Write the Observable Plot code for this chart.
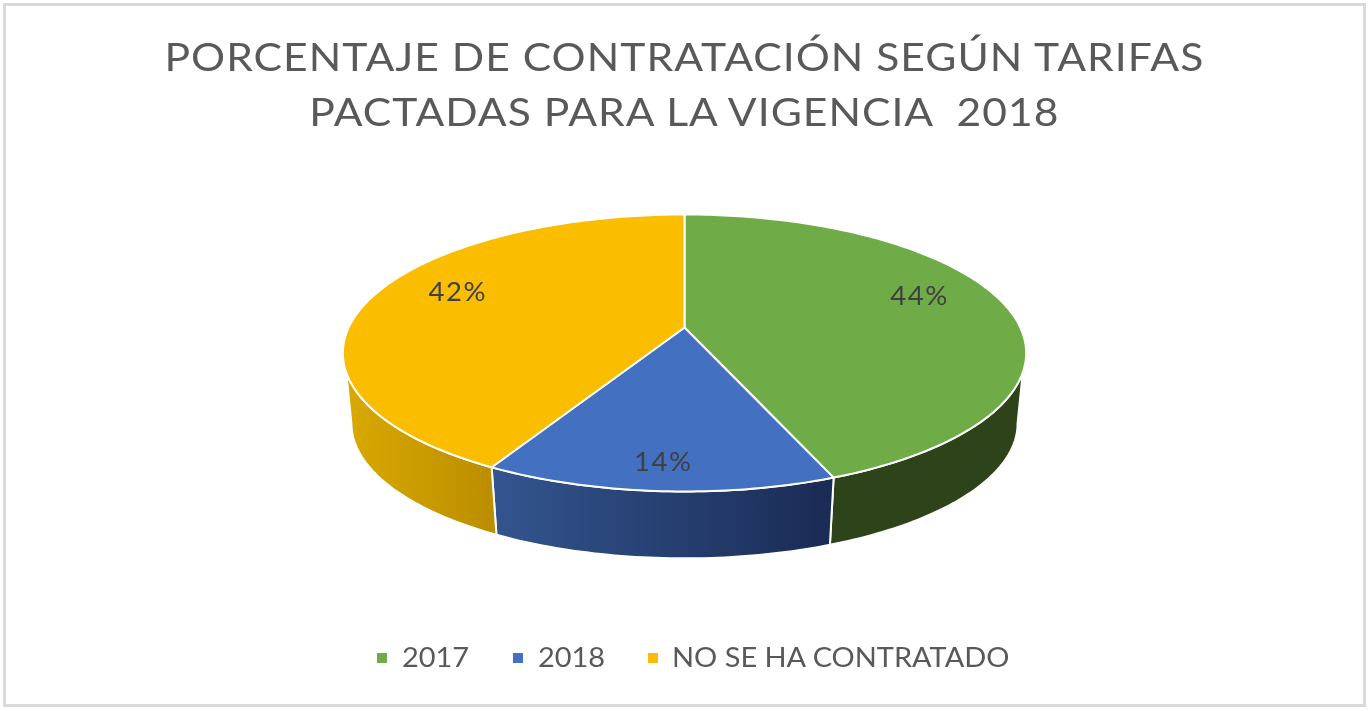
<!DOCTYPE html>
<html lang="es">
<head>
<meta charset="utf-8">
<script src="https://cdn.jsdelivr.net/npm/d3@7"></script>
<script src="https://cdn.jsdelivr.net/npm/@observablehq/plot@0.6"></script>
<style>
  html, body { margin: 0; padding: 0; background: #fff; }
  body { width: 1369px; height: 711px; overflow: hidden; position: relative; font-family: Lato, "Open Sans", sans-serif; }
  #frame { position: absolute; left: 3px; top: 3px; width: 1363px; height: 704px; box-sizing: border-box; border: 3.5px solid #d9d9d9; pointer-events: none; }
  #title { height: 155px; box-sizing: border-box; padding-top: 28px; margin: 0; font-weight: 400; font-size: 39.5px; line-height: 55px; letter-spacing: 0.95px; text-align: center; color: #595959; transform: scaleX(1.078); transform-origin: 686px 0; filter: blur(0.5px); }
  #chart svg { display: block; filter: blur(0.4px); }
  #chart text { letter-spacing: 1.5px; }
  #legend { position: relative; height: 60px; font-size: 27px; color: #595959; filter: blur(0.5px); }
  #legend span { position: absolute; top: 14px; line-height: 36px; white-space: nowrap; transform: scaleX(1.072); transform-origin: 0 0; }
  #legend i { position: absolute; top: 28px; width: 10px; height: 10px; }
</style>
</head>
<body>
<div id="frame"></div>
<h1 id="title">PORCENTAJE DE CONTRATACIÓN SEGÚN TARIFAS<br>PACTADAS PARA LA VIGENCIA&nbsp; 2018</h1>
<div id="chart"></div>
<div id="legend"></div>
<script>
// Data
const categories = ["2017", "2018", "NO SE HA CONTRATADO"];
const values = [44, 14, 42];
const topColors = ["#6fab47", "#4370c0", "#fbbd00"];

// Presentation
const sideFills = ["#2d441b", "url(#blueSide)", "url(#yellowSide)"];
const labelPolar = [[71.7, 0.77], [183.6, 0.85], [291.4, 0.7625]];
const legendSwatchX = [377, 513, 648];
const legendTextX = [402, 538, 672];

// Tilted-disc perspective
const c = 0.184, baseScale = 0.975, baseDrop = 71 / 133.8;
const rad = d => d * Math.PI / 180;
const projTop = (deg, r = 1) => {
  const u = r * Math.sin(rad(deg)), v = r * Math.cos(rad(deg)), w = 1 + c * v;
  return { x: u / w, y: v / w };
};
const projBase = deg => {
  const p = projTop(deg);
  return { x: baseScale * p.x, y: baseScale * p.y - baseDrop };
};
const arc = (f, a, b) => {
  const n = Math.max(1, Math.ceil(Math.abs(b - a)));
  return d3.range(n + 1).map(i => f(a + (b - a) * i / n));
};

// Slice extents in degrees, clockwise from the top
let acc = 0;
const slices = values.map((v, i) => {
  const a0 = acc * 3.6; acc += v;
  return { i, a0, a1: acc * 3.6 };
});

const topPts = slices.flatMap(s => {
  const pts = [{ x: 0, y: 0 }, ...arc(projTop, s.a0, s.a1), { x: 0, y: 0 }];
  return pts.map(p => ({ ...p, k: s.i }));
});

const sidePolys = slices.map(s => {
  const tA = Math.max(s.a0, 108.4), tB = Math.min(s.a1, 251.6);
  const bA = Math.max(s.a0, 100.6), bB = Math.min(s.a1, 259.4);
  const pts = [...arc(projTop, tA, tB), ...arc(projBase, bB, bA)];
  pts.push(pts[0]);
  return pts;
});

const labelRows = values.map((v, i) => ({ ...projTop(...labelPolar[i]), t: v + "%" }));

const gradients = () => {
  const defs = d3.create("svg:defs");
  const add = (id, stops) => {
    const g = defs.append("linearGradient").attr("id", id).attr("x1", 0).attr("x2", 1).attr("y1", 0).attr("y2", 0);
    stops.forEach(([o, col]) => g.append("stop").attr("offset", o).attr("stop-color", col));
  };
  add("blueSide", [[0, "#33558f"], [1, "#1a2b54"]]);
  add("yellowSide", [[0, "#d9a900"], [1, "#bb8d00"]]);
  return defs.node();
};

const sideMark = i => Plot.line(sidePolys[i], {
  x: "x", y: "y", curve: "linear", fill: sideFills[i], stroke: "#fff", strokeWidth: 2, strokeLinejoin: "round"
});

const plot = Plot.plot({
  width: 1369, height: 470,
  margin: 0,
  style: { background: "transparent", overflow: "visible" },
  x: { axis: null, domain: [-684 / 335.8, 685 / 335.8] },
  y: { axis: null, domain: [-298 / 133.8, 172 / 133.8] },
  marks: [
    gradients,
    sideMark(0), sideMark(1), sideMark(2),
    ...slices.map(s => Plot.line(topPts.filter(d => d.k === s.i), {
      x: "x", y: "y", curve: "linear", fill: topColors[s.i], stroke: "#fff", strokeWidth: 2, strokeLinejoin: "round"
    })),
    Plot.text(labelRows, {
      x: "x", y: "y", text: "t", fontSize: 27.5, fontFamily: "Lato, sans-serif", fill: "#404040", textAnchor: "middle", lineAnchor: "middle"
    })
  ]
});
document.getElementById("chart").append(plot);

const legend = d3.select("#legend");
categories.forEach((name, i) => {
  legend.append("i").style("left", legendSwatchX[i] + "px").style("background", topColors[i]);
  legend.append("span").style("left", legendTextX[i] + "px").text(name);
});
</script>
</body>
</html>
